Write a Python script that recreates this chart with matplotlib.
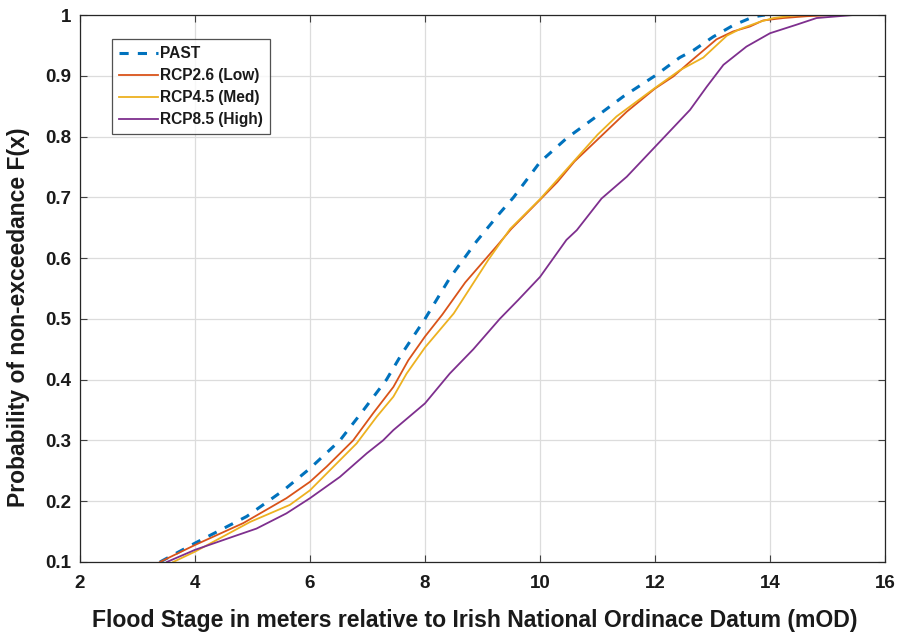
import matplotlib

matplotlib.use("Agg")
import matplotlib.pyplot as plt

# values (flood stage mOD, F(x))
past_x = [3.39, 4.0, 4.9, 5.54, 6.0, 6.52, 6.93, 7.33, 7.6, 8.0, 8.43, 8.9, 9.3, 9.54,
          10.0, 10.46, 11.01, 11.45, 12.0, 12.43, 12.67, 13.01, 13.36, 13.71, 13.91]
past_y = [0.1, 0.131, 0.175, 0.218, 0.254, 0.30, 0.35, 0.40, 0.443, 0.50, 0.567, 0.628, 0.674, 0.70,
          0.758, 0.797, 0.835, 0.866, 0.90, 0.93, 0.942, 0.964, 0.983, 0.997, 1.0]

rcp26_x = [3.39, 4.0, 4.84, 5.59, 6.0, 6.29, 6.75, 7.10, 7.45, 7.71, 8.0, 8.3, 8.7, 9.25, 9.5,
           10.0, 10.3, 10.6, 11.0, 11.51, 12.0, 12.32, 12.61, 13.07, 13.36, 13.65, 13.88, 14.23,
           14.64, 15.1]
rcp26_y = [0.1, 0.128, 0.164, 0.205, 0.232, 0.257, 0.30, 0.345, 0.388, 0.432, 0.471, 0.507, 0.56,
           0.62, 0.648, 0.696, 0.725, 0.759, 0.795, 0.841, 0.879, 0.899, 0.923, 0.96, 0.973, 0.981,
           0.991, 0.995, 0.998, 1.0]

rcp45_x = [3.62, 4.0, 4.96, 5.65, 6.0, 6.41, 6.81, 7.16, 7.45, 7.68, 8.0, 8.5, 9.1, 9.48, 10.0,
           10.5, 11.0, 11.33, 11.8, 12.0, 12.43, 12.84, 13.25, 13.48, 13.83, 14.06, 14.41, 14.64]
rcp45_y = [0.1, 0.117, 0.166, 0.194, 0.218, 0.257, 0.295, 0.339, 0.372, 0.41, 0.453, 0.509, 0.597,
           0.648, 0.697, 0.75, 0.803, 0.833, 0.866, 0.88, 0.909, 0.93, 0.966, 0.977, 0.989, 0.995,
           0.999, 1.0]

rcp85_x = [3.51, 4.0, 4.67, 5.07, 5.59, 6.0, 6.52, 6.99, 7.27, 7.45, 8.0, 8.43, 8.84, 9.3, 9.62,
           10.0, 10.46, 10.64, 11.07, 11.51, 12.0, 12.61, 12.9, 13.19, 13.59, 14.0, 14.46, 14.81,
           15.45]
rcp85_y = [0.1, 0.12, 0.142, 0.155, 0.18, 0.205, 0.24, 0.279, 0.30, 0.317, 0.361, 0.41, 0.45, 0.50,
           0.531, 0.569, 0.63, 0.646, 0.698, 0.734, 0.783, 0.844, 0.882, 0.918, 0.948, 0.97, 0.984,
           0.995, 1.0]

x_ticks = [2, 4, 6, 8, 10, 12, 14, 16]
y_ticks = [0.1, 0.2, 0.3, 0.4, 0.5, 0.6, 0.7, 0.8, 0.9, 1.0]
y_labels = ["0.1", "0.2", "0.3", "0.4", "0.5", "0.6", "0.7", "0.8", "0.9", "1"]

plt.rcParams["font.family"] = ["Liberation Sans", "DejaVu Sans"]
plt.rcParams["font.weight"] = "bold"

W, H = 905, 641
fig = plt.figure(figsize=(W / 100, H / 100), dpi=100)
ax = fig.add_axes([80 / W, 79 / H, 805 / W, 547 / H])

ax.plot(past_x, past_y, color="#0072BD", lw=2.2, ls=(0, (3, 3)), label="PAST")
ax.plot(rcp26_x, rcp26_y, color="#D95319", lw=1.3, label="RCP2.6 (Low)")
ax.plot(rcp45_x, rcp45_y, color="#EDB120", lw=1.3, label="RCP4.5 (Med)")
ax.plot(rcp85_x, rcp85_y, color="#7E2F8E", lw=1.3, label="RCP8.5 (High)")

ax.set_xlim(2, 16)
ax.set_ylim(0.1, 1.0)
ax.set_xticks(x_ticks)
ax.set_yticks(y_ticks)
ax.set_yticklabels(y_labels)
ax.grid(True, color="#dcdcdc", lw=0.9)
ax.set_axisbelow(True)
ax.tick_params(direction="in", top=True, right=True, length=5, width=0.8,
               color="#404040", labelsize=13.5, labelcolor="#1a1a1a")
ax.tick_params(axis="x", pad=9)
ax.tick_params(axis="y", pad=6)
for lab in ax.get_xticklabels() + ax.get_yticklabels():
    lab.set_fontweight("bold")
for sp in ax.spines.values():
    sp.set_color("#262626")
    sp.set_linewidth(0.9)

fig.text(475 / W, 1 - 620 / H,
         "Flood Stage in meters relative to Irish National Ordinace Datum (mOD)",
         fontsize=16.6, fontweight="bold", ha="center", va="center", color="#1a1a1a")
fig.text(19 / W, 1 - 317 / H, "Probability of non-exceedance F(x)", rotation=90,
         fontsize=16.5, fontweight="bold", ha="center", va="center", color="#1a1a1a")

leg = ax.legend(loc="upper left", bbox_to_anchor=(32 / 805, 1 - 24 / 547), fontsize=11.2,
                frameon=True, fancybox=False, edgecolor="#262626", handlelength=2.5,
                handletextpad=0.15, borderpad=0.45, labelspacing=0.45, borderaxespad=0)
leg.get_frame().set_linewidth(0.9)
for t in leg.get_texts():
    t.set_fontweight("bold")
    t.set_color("#1a1a1a")

fig.savefig("out.png", dpi=100)
